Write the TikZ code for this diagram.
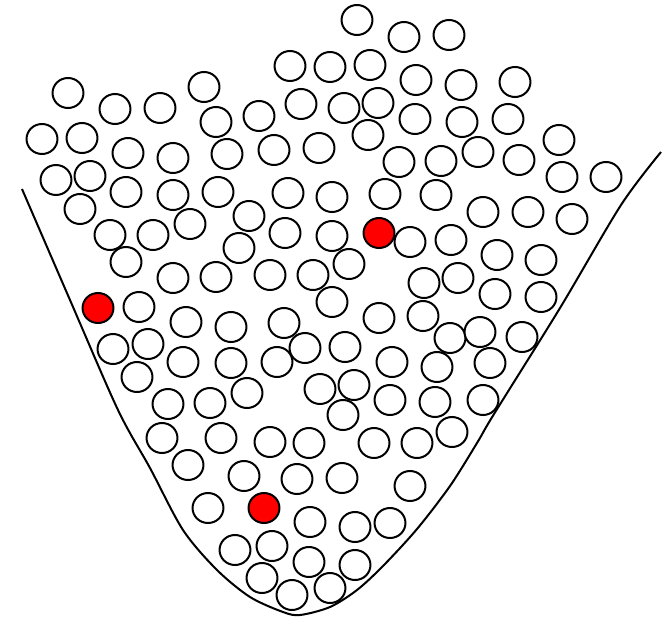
\documentclass[tikz,border=0pt]{standalone}
\begin{document}
\begin{tikzpicture}[x=0.75pt,y=-0.75pt,
  ball/.style={draw=black,line width=1.5pt,fill=white},
  redball/.style={draw=black,line width=1.5pt,fill=red},
  bowl/.style={draw=black,line width=1.5pt}]
\useasboundingbox (0,0) rectangle (666,620);
\draw[bowl] plot[smooth,tension=0.5] coordinates {(22,189) (70,300) (118,410) (150,468) (183,530) (217,570) (250,597) (283,612) (300,615) (330,607) (357,590) (383,566) (417,529) (450,486) (477,443) (494,414) (560,308) (621,205) (661,152)};
\foreach \x/\y in {357/20,404/37,449/35,
290/66,330/67,370/65,
416/80,461/85,515/82,
68/93,115/109,160/108,204/87,
216/122,259/116,301/104,344/108,378/103,
415/119,462/122,508/119,
42/139,82/138,128/153,173/158,227/154,
274/150,319/148,368/135,
399/162,441/161,478/152,519/160,559/140,
56/180,90/176,126/192,173/195,218/192,
288/193,332/197,385/194,436/195,
562/177,606/177,
80/209,110/235,153/235,190/224,249/216,
285/233,332/236,410/242,451/240,
483/212,528/212,572/219,
126/262,173/278,216/277,239/248,
270/275,313/275,349/264,
424/283,458/278,497/255,541/260,
139/307,186/322,231/327,
284/323,332/302,379/318,423/316,
495/294,541/297,
113/349,148/344,137/377,183/362,231/363,
277/362,305/348,345/347,392/362,
450/338,480/332,522/337,
437/367,490/363,
168/404,210/403,247/393,
320/389,354/385,390/400,
435/402,483/400,
162/438,221/438,270/442,309/443,
343/415,374/443,417/443,452/432,
188/465,244/476,297/479,342/478,410/486,
208/508,310/522,355/527,390/523,
235/550,272/546,309/562,355/565,
262/578,292/595,330/588}
  \draw[ball] (\x,\y) ellipse [x radius=11.6pt, y radius=11.25pt];
\foreach \x/\y in {98/308,379/233,264/508}
  \draw[redball] (\x,\y) ellipse [x radius=11.6pt, y radius=11.25pt];
\end{tikzpicture}
\end{document}
